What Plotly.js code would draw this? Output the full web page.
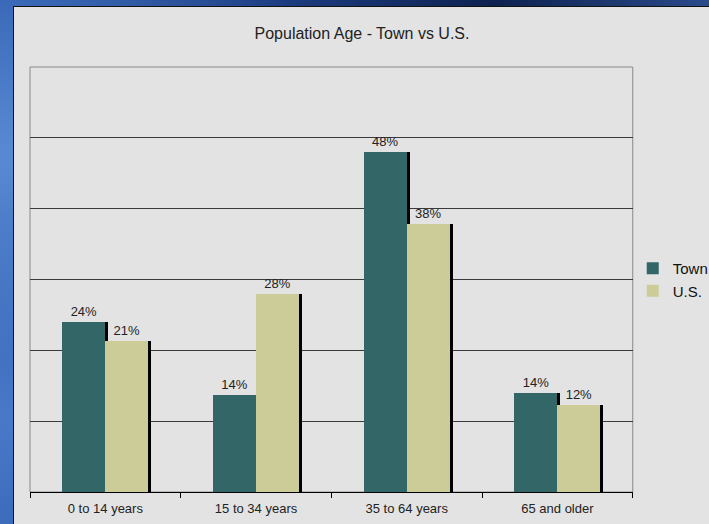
<!DOCTYPE html>
<html>
<head>
<meta charset="utf-8">
<script src="https://cdn.plot.ly/plotly-3.0.1.min.js"></script>
<style>
  html, body { margin:0; padding:0; width:709px; height:524px; overflow:hidden; }
  body {
    background:
      radial-gradient(ellipse at 5% 30%, rgba(120,170,240,0.6), rgba(0,0,0,0) 40%),
      radial-gradient(ellipse at 3% 80%, rgba(90,140,220,0.6), rgba(0,0,0,0) 35%),
      linear-gradient(90deg, #2f5fb0 0%, #1c3c80 40%, #0e2250 70%, #2a4a8a 100%);
  }
  #chart { position:absolute; left:13px; top:6px; width:696px; height:518px;
           border-left:1px solid #111; border-top:1px solid #111; background:#e3e3e3; }
</style>
</head>
<body>
<div id="chart"></div>
<script>
const categories = ["0 to 14 years", "15 to 34 years", "35 to 64 years", "65 and older"];
const townValues = [24.0, 13.7, 48.0, 14.0];
const usValues   = [21.3, 28.0, 37.9, 12.3];
const seriesNames = ["Town", "U.S."];

const W = 0.285;
const SH = 0.02;
const fmt = v => Math.round(v) + "%";

const shadow = (vals, off) => ({
  type: "bar", x: categories, y: vals, width: W, offset: off + SH,
  marker: { color: "#000000" }, showlegend: false, hoverinfo: "skip"
});
const main = (vals, off, name, color) => ({
  type: "bar", x: categories, y: vals, width: W, offset: off, name: name,
  marker: { color: color, line: { width: 0 } },
  text: vals.map(fmt), textposition: "outside", cliponaxis: false,
  textfont: { family: "Liberation Sans, Arial, sans-serif", size: 13, color: "#222" }
});

const data = [
  shadow(townValues, -W),
  shadow(usValues, 0),
  main(townValues, -W, seriesNames[0], "#336666"),
  main(usValues, 0, seriesNames[1], "#cccc99")
];

const layout = {
  width: 696, height: 518,
  margin: { l: 16, r: 77, t: 60, b: 33 },
  paper_bgcolor: "#e3e3e3", plot_bgcolor: "#e3e3e3",
  barmode: "overlay",
  font: { family: "Liberation Sans, Arial, sans-serif", color: "#222" },
  title: { text: "Population Age - Town vs U.S.", x: 0.5, xanchor: "center", y: 0.95, yanchor: "middle",
           font: { size: 16, color: "#222" }, automargin: false },
  xaxis: { type: "category", tickson: "boundaries", ticks: "outside", ticklen: 5, tickcolor: "#000",
           showline: true, linecolor: "#000", linewidth: 1, showgrid: false, automargin: false,
           ticklabelstandoff: 4, tickfont: { size: 13, color: "#222" } },
  yaxis: { range: [0, 60], dtick: 10, showticklabels: false, showgrid: true, automargin: false,
           gridcolor: "#3a3a3a", gridwidth: 1, zeroline: false, showline: false, fixedrange: true },
  legend: { xref: "container", x: 0.889, xanchor: "left", y: 0.5, yanchor: "middle", bgcolor: "rgba(0,0,0,0)",
            font: { size: 15, color: "#111" }, itemclick: false, itemwidth: 30, tracegroupgap: 2 },
  shapes: [{ type: "rect", xref: "paper", yref: "paper", x0: 0, x1: 1, y0: 0, y1: 1,
             line: { color: "#8a8a8a", width: 1 }, layer: "below" }],
  bargap: 0
};

Plotly.newPlot("chart", data, layout, { displayModeBar: false, staticPlot: true });
</script>
</body>
</html>
